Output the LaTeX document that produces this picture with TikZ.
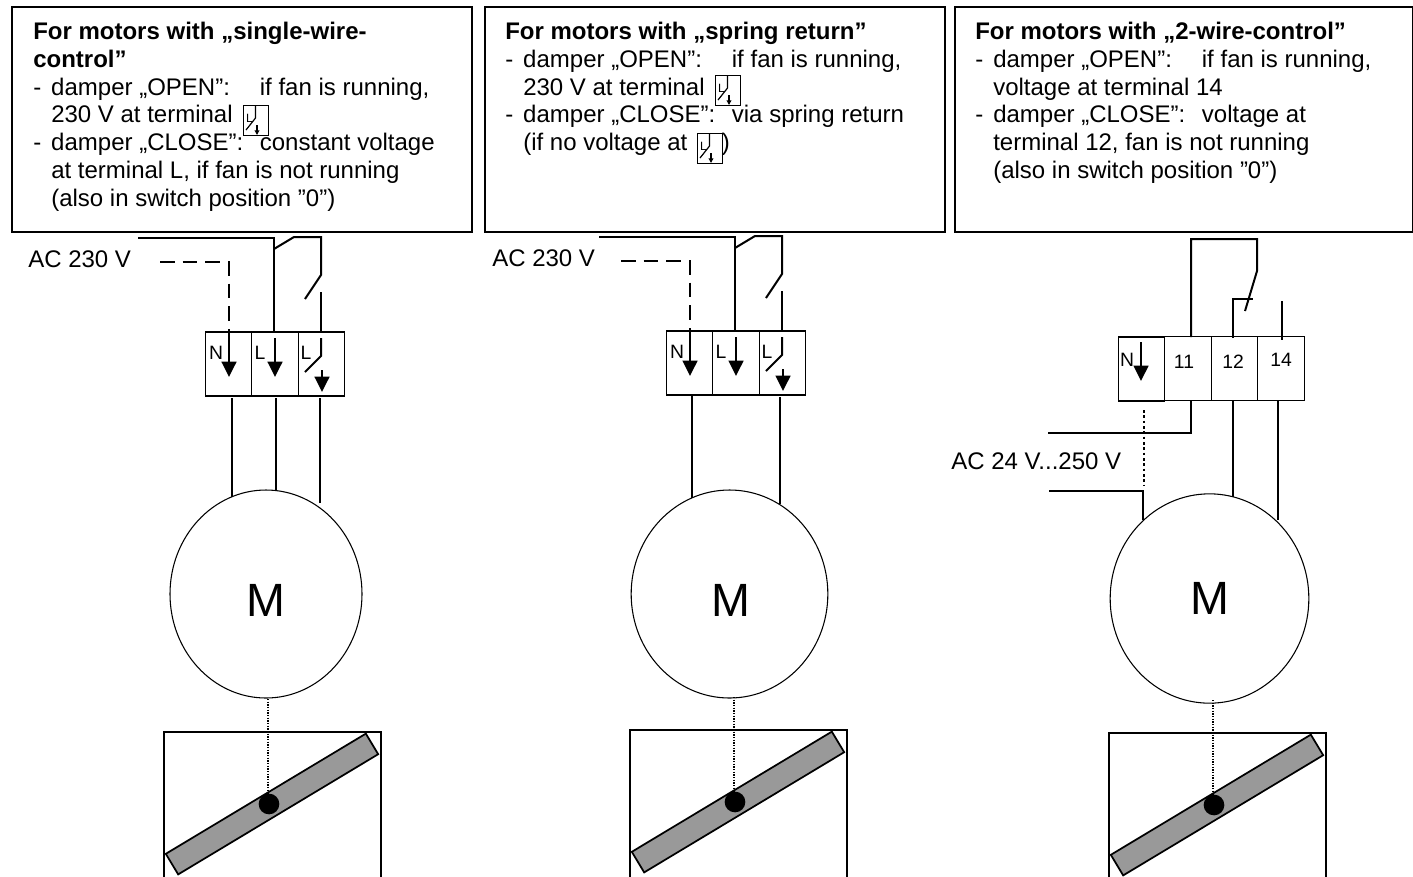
\documentclass[tikz,border=0pt]{standalone}
\usepackage{fontspec}
\setmainfont{Liberation Sans}
\usetikzlibrary{arrows.meta,shapes.geometric}
\newcommand{\bodyfont}{\fontsize{18}{20.8}\selectfont}
\newcommand{\dashitem}{\makebox[13.5pt][l]{-}}
\newcommand{\headpart}[1]{\makebox[156.5pt][l]{#1}}
\tikzset{
  infobox/.style={draw,line width=1.5pt,minimum width=345pt,inner sep=0pt,outer sep=0pt},
  infotext/.style={anchor=north west,align=left,inner sep=0pt,font=\bodyfont},
  actext/.style={anchor=west,inner sep=0pt,font=\bodyfont},
  termbox/.style={draw,line width=0.9pt,minimum width=34.8pt,minimum height=48pt,inner sep=0pt,outer sep=0pt},
  termlabel/.style={inner sep=0pt,font=\fontsize{14.5}{15}\selectfont},
  numlabel/.style={inner sep=0pt,font=\fontsize{14.5}{15}\selectfont},
  wire/.style={line width=2.2pt},
  thinwire/.style={line width=1.5pt},
  dashwire/.style={line width=1.3pt,dash pattern=on 11pt off 6pt},
  dotwire/.style={line width=0.9pt,dash pattern=on 1pt off 1pt},
  dotthick/.style={line width=2.1pt,dash pattern=on 2pt off 2pt},
  arrowwire/.style={line width=1.8pt,-{Triangle[length=11.5pt,width=11pt]}},
  smallarrow/.style={line width=1pt,-{Triangle[length=3.5pt,width=3.5pt]}},
  motor/.style={draw,ellipse,line width=0.8pt,inner sep=0pt,outer sep=0pt},
  motorlabel/.style={inner sep=0pt,font=\fontsize{35}{36}\selectfont},
  damperbox/.style={draw,line width=1.1pt,minimum width=162.5pt,minimum height=150pt,inner sep=0pt,outer sep=0pt},
  blade/.style={draw,fill=black!40,line width=1.3pt,rotate=31,minimum width=175pt,minimum height=18pt,inner sep=0pt,outer sep=0pt},
  pivot/.style={circle,fill=black,minimum size=15.5pt,inner sep=0pt,outer sep=0pt},
  iconbox/.style={draw,line width=0.7pt,minimum width=18.75pt,minimum height=22.5pt,inner sep=0pt,outer sep=0pt},
  iconline/.style={line width=0.9pt},
  iconlabel/.style={inner sep=0pt,font=\fontsize{9}{9}\selectfont}
}
% inline terminal symbol, #1 = name, #2,#3 = top left corner in pixels
\newcommand{\termicon}[3]{%
  \begin{scope}[shift={(#2,#3)}]
    \node[iconbox] (#1) at (12.5,15) {};
    \node[iconlabel] (#1L) at (6.5,13) {L};
    \coordinate (#1a) at (12.5,1);
    \coordinate (#1b) at (12.5,13);
    \coordinate (#1c) at (3,25);
    \coordinate (#1d) at (14,20);
    \coordinate (#1e) at (14,30);
    \draw[iconline] (#1a) -- (#1b) -- (#1c);
    \draw[smallarrow] (#1d) -- (#1e);
  \end{scope}}
% damper with shaft, #1 = name, #2,#3 = offset
\newcommand{\damper}[3]{%
  \begin{scope}[shift={(#2,#3)}]
    \node[damperbox] (#1box) at (272.5,832) {};
    \node[blade] (#1blade) at (272,804) {};
    \node[pivot] (#1piv) at (269,804) {};
    \coordinate (#1top) at (268,699);
    \draw[dotwire] (#1top) -- (#1top |- #1piv.north);
  \end{scope}}
% terminals and wiring shared by the first two diagrams
\newcommand{\acpanel}[3]{%
  \begin{scope}[shift={(#2,#3)}]
    \node[termbox] (#1N) at (228.5,364) {};
    \node[termbox] (#1L) at (275,364) {};
    \node[termbox] (#1S) at (321.5,364) {};
    \node[termlabel] (#1ln) at (216,353) {N};
    \node[termlabel] (#1ll) at (260,353) {L};
    \node[termlabel] (#1ls) at (306,353) {L};
    \coordinate (#1t0) at (138,238);
    \coordinate (#1t1) at (274,238);
    \coordinate (#1j) at (274,249);
    \coordinate (#1k) at (294,237);
    \coordinate (#1m) at (321,237);
    \coordinate (#1n) at (321,275);
    \coordinate (#1o) at (305,299);
    \coordinate (#1p) at (321,292);
    \coordinate (#1d0) at (160,262);
    \coordinate (#1d1) at (229,262);
    \coordinate (#1d2) at (229,338);
    \coordinate (#1ae) at (229,377);
    \coordinate (#1b0) at (275,338);
    \coordinate (#1be) at (275,377);
    \coordinate (#1c0) at (321,338);
    \coordinate (#1c1) at (321,356);
    \coordinate (#1c2) at (305,372);
    \coordinate (#1c3) at (322,370);
    \coordinate (#1c4) at (322,392);
    \draw[thinwire] (#1t0) -- (#1t1) -- (#1t1 |- #1L.north);
    \draw[thinwire] (#1j) -- (#1k) -- (#1m) -- (#1n) -- (#1o);
    \draw[thinwire] (#1p) -- (#1p |- #1S.north);
    \draw[dashwire] (#1d0) -- (#1d1) -- (#1d2);
    \draw[arrowwire] (#1d2) -- (#1ae);
    \draw[arrowwire] (#1b0) -- (#1be);
    \draw[thinwire] (#1c0) -- (#1c1) -- (#1c2);
    \draw[arrowwire] (#1c3) -- (#1c4);
  \end{scope}}
\begin{document}
\begin{tikzpicture}[x=0.75pt,y=-0.75pt]
\useasboundingbox (0,0) rectangle (1413,876);
\clip (0,0) rectangle (1413,876);

% ---------- info boxes
\node[infobox,minimum height=169pt] (box1) at (242,119.5) {};
\node[infobox,minimum height=169pt] (box2) at (714.5,119.5) {};
\node[infobox,minimum height=169pt,minimum width=344pt] (box3) at (1184,119.5) {};

\node[infotext] (txt1) at (33,22) {\textbf{For motors with „single-wire-}\\\textbf{control”}\\
\dashitem\headpart{damper „OPEN”:}if fan is running,\\
\hspace*{13.5pt}230 V at terminal\\
\dashitem\headpart{damper „CLOSE”:}constant voltage\\
\hspace*{13.5pt}at terminal L, if fan is not running\\
\hspace*{13.5pt}(also in switch position ”0”)};
\node[infotext] (txt2) at (505,22) {\textbf{For motors with „spring return”}\\
\dashitem\headpart{damper „OPEN”:}if fan is running,\\
\hspace*{13.5pt}230 V at terminal\\
\dashitem\headpart{damper „CLOSE”:}via spring return\\
\hspace*{13.5pt}(if no voltage at \hspace{21pt})};
\node[infotext] (txt3) at (975,22) {\textbf{For motors with „2-wire-control”}\\
\dashitem\headpart{damper „OPEN”:}if fan is running,\\
\hspace*{13.5pt}voltage at terminal 14\\
\dashitem\headpart{damper „CLOSE”:}voltage at\\
\hspace*{13.5pt}terminal 12, fan is not running\\
\hspace*{13.5pt}(also in switch position ”0”)};

\termicon{ia}{243}{105}
\termicon{ib}{715}{75}
\termicon{ic}{697}{133}

% ---------- first two terminal groups
\acpanel{a}{0}{0}
\acpanel{b}{461}{-1}
\node[actext] (aac) at (28,259) {AC 230 V};
\node[actext] (bac) at (492,258) {AC 230 V};

\node[motor,minimum width=144pt,minimum height=156pt] (ma) at (266,594) {};
\node[motor,minimum width=147.5pt,minimum height=156pt] (mb) at (729.5,594) {};
\node[motorlabel] (mal) at (266,600) {M};
\node[motorlabel] (mbl) at (731,600) {M};

\coordinate (aw1) at (232,398);
\coordinate (aw1e) at (232,497);
\coordinate (aw2) at (276,398);
\coordinate (aw2e) at (276,490);
\coordinate (aw3) at (320,398);
\coordinate (aw3e) at (320,503);
\draw[wire] (aw1) -- (aw1e);
\draw[wire] (aw2) -- (aw2e);
\draw[wire] (aw3) -- (aw3e);

\coordinate (bw1) at (692,396);
\coordinate (bw1e) at (692,498);
\coordinate (bw3) at (780,397);
\coordinate (bw3e) at (780,504);
\draw[wire] (bw1) -- (bw1e);
\draw[wire] (bw3) -- (bw3e);

% ---------- third terminal group
\node[termbox,minimum height=48pt] (cN) at (1141.5,369) {};
\node[termbox,minimum height=47.5pt] (c11) at (1188,368.5) {};
\node[termbox,minimum height=47.5pt] (c12) at (1234.5,368.5) {};
\node[termbox,minimum height=47.5pt] (c14) at (1281,368.5) {};
\node[termlabel] (cln) at (1127,360) {N};
\node[numlabel] (cl11) at (1184,362) {11};
\node[numlabel] (cl12) at (1233,362) {12};
\node[numlabel] (cl14) at (1281,360) {14};
\node[actext] (cac) at (951,461) {AC 24 V...250 V};

\coordinate (c1) at (1191,337);
\coordinate (c2) at (1191,239);
\coordinate (c3) at (1257,239);
\coordinate (c4) at (1257,271);
\coordinate (c5) at (1245,311);
\coordinate (c6) at (1233,338);
\coordinate (c7) at (1233,299);
\coordinate (c8) at (1253,299);
\coordinate (c9) at (1282,301);
\coordinate (c10) at (1282,340);
\coordinate (ca) at (1141,342);
\coordinate (cae) at (1141,381);
\draw[thinwire] (c1) -- (c2) -- (c3) -- (c4) -- (c5);
\draw[thinwire] (c6) -- (c7) -- (c8);
\draw[thinwire] (c9) -- (c10);
\draw[arrowwire] (ca) -- (cae);

\coordinate (d1) at (1191,401);
\coordinate (d2) at (1191,433);
\coordinate (d3) at (1048,433);
\coordinate (d4) at (1144,410);
\coordinate (d5) at (1144,485);
\coordinate (d6) at (1049,491);
\coordinate (d7) at (1143,491);
\coordinate (d8) at (1143,520);
\coordinate (d9) at (1233,400);
\coordinate (d10) at (1233,497);
\coordinate (d11) at (1278,400);
\coordinate (d12) at (1278,520);
\draw[wire] (d1) -- (d2) -- (d3);
\draw[dotthick] (d4) -- (d5);
\draw[wire] (d6) -- (d7) -- (d8);
\draw[wire] (d9) -- (d10);
\draw[wire] (d11) -- (d12);

\node[motor,minimum width=149pt,minimum height=157pt] (mc) at (1209.5,598.5) {};
\node[motorlabel] (mcl) at (1210,598) {M};

% ---------- dampers
\damper{da}{0}{0}
\damper{db}{466}{-2}
\damper{dc}{945}{1}
\end{tikzpicture}
\end{document}
